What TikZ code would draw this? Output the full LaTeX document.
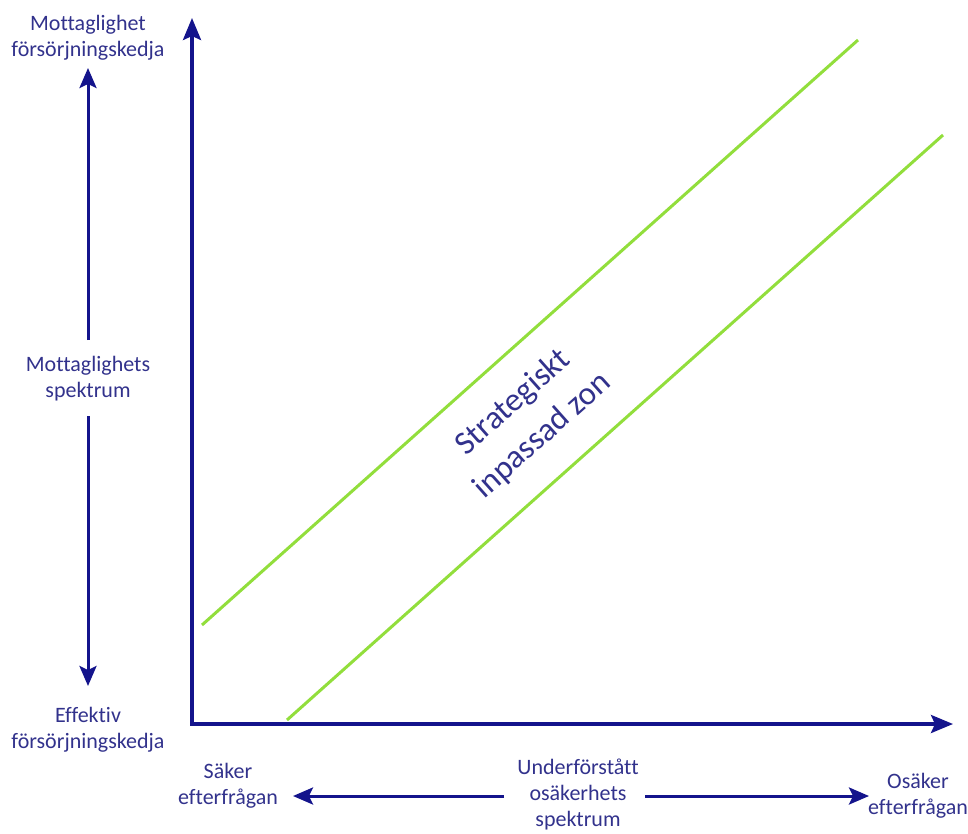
\documentclass[tikz,border=0pt]{standalone}
\usepackage{fontspec}
\setmainfont{Carlito}[Ligatures={NoCommon}]
\usetikzlibrary{arrows.meta}
\definecolor{axiscol}{RGB}{20,20,140}
\definecolor{txtcol}{RGB}{50,50,140}
\definecolor{zonecol}{RGB}{146,222,60}
\begin{document}
\begin{tikzpicture}[x=1pt,y=-1pt,
  lbl/.style={text=txtcol, font=\fontsize{22}{26}\selectfont, align=center, inner sep=0pt},
  biglbl/.style={text=txtcol, font=\fontsize{33}{44}\selectfont, align=center, inner sep=0pt},
  axisline/.style={draw=axiscol, line width=3.5pt, line join=miter},
  spec/.style={draw=axiscol, line width=3pt, -{Stealth[length=20pt,width=17pt,inset=4pt]}},
  zone/.style={draw=zonecol, line width=3pt}]
\useasboundingbox (0,0) rectangle (968,833);
% axes
\coordinate (O) at (192,724);
\coordinate (Ytop) at (192,18);
\coordinate (Xend) at (953,724);
\draw[axisline, {Stealth[length=22pt,width=18pt,inset=4pt]}-{Stealth[length=22pt,width=18pt,inset=4pt]}] (Ytop) -- (O) -- (Xend);
% zone lines
\coordinate (za1) at (202,625);
\coordinate (za2) at (858,40);
\coordinate (zb1) at (287,720);
\coordinate (zb2) at (943,135);
\draw[zone] (za1) -- (za2);
\draw[zone] (zb1) -- (zb2);
\node[biglbl, rotate=41.7] (zn) at (528,419) {Strategiskt\\inpassad zon};
% left labels
\node[lbl] (mt) at (88,38) {Mottaglighet\\försörjningskedja};
\node[lbl] (ms) at (88,379) {Mottaglighets\\spektrum};
\node[lbl] (ef) at (88,730) {Effektiv\\försörjningskedja};
\coordinate (mtup) at (88,68);
\coordinate (msup) at (88,340);
\coordinate (msdn) at (88,416);
\coordinate (efdn) at (88,686);
\draw[spec] (msup) -- (mtup);
\draw[spec] (msdn) -- (efdn);
% bottom labels
\node[lbl] (sk) at (228,786) {Säker\\efterfrågan};
\node[lbl] (us) at (578,794) {Underförstått\\osäkerhets\\spektrum};
\node[lbl] (os) at (918,796) {Osäker\\efterfrågan};
\coordinate (usl) at (504,796);
\coordinate (skr) at (293,796);
\coordinate (usr) at (645,796);
\coordinate (osl) at (869,796);
\draw[spec] (usl) -- (skr);
\draw[spec] (usr) -- (osl);
\end{tikzpicture}
\end{document}
